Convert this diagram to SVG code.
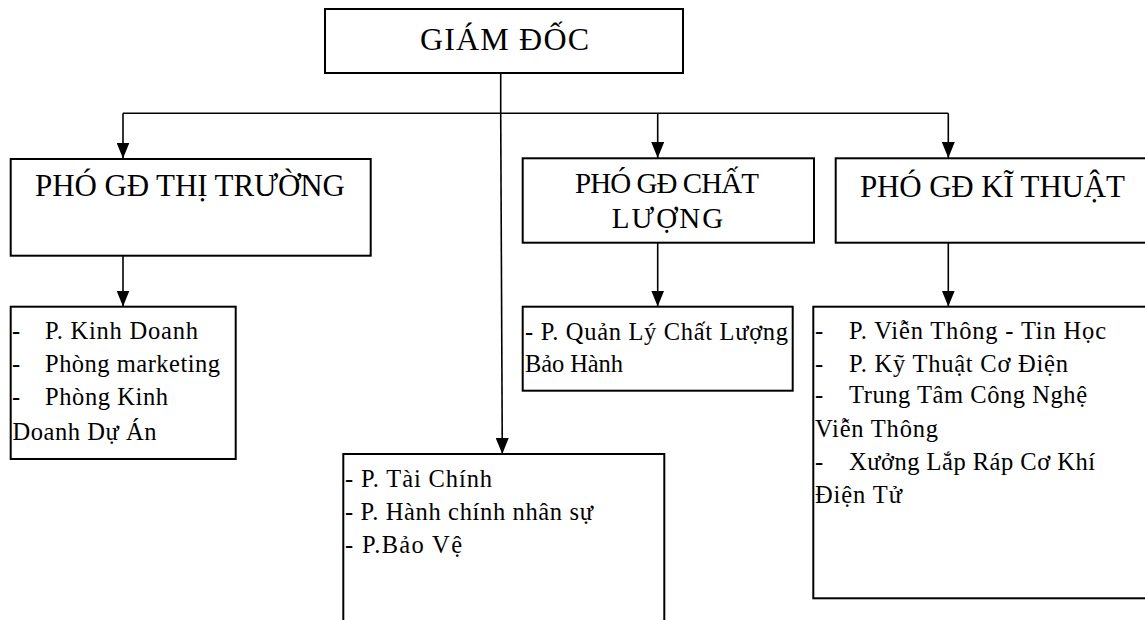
<svg xmlns="http://www.w3.org/2000/svg" width="1145" height="620" viewBox="0 0 1145 620">
<style>
.box{fill:#fff;stroke:#000;stroke-width:2}
.ln{fill:none;stroke:#000;stroke-width:1.6}
.h{font-family:"Liberation Serif","Times New Roman",serif;fill:#000}
.t{font-family:"Liberation Serif","Times New Roman",serif;font-size:24.5px;fill:#000}
</style>
<defs>
<marker id="arr" viewBox="0 0 16 13" refX="16" refY="6.5" markerWidth="16" markerHeight="13" markerUnits="userSpaceOnUse" orient="auto">
<path d="M0,0 L16,6.5 L0,13 Z" fill="#000"/>
</marker>
</defs>
<rect width="1145" height="620" fill="#fff"/>
<g id="connectors">
<line class="ln" x1="500.7" y1="73" x2="500.7" y2="113.3"/>
<line class="ln" x1="123" y1="113.3" x2="948.3" y2="113.3"/>
<line class="ln" x1="123" y1="113.3" x2="123" y2="158.5" marker-end="url(#arr)"/>
<line class="ln" x1="657.7" y1="113.3" x2="657.7" y2="158" marker-end="url(#arr)"/>
<line class="ln" x1="948.3" y1="113.3" x2="948.3" y2="158" marker-end="url(#arr)"/>
<line class="ln" x1="500.7" y1="113.3" x2="502.3" y2="454" marker-end="url(#arr)"/>
<line class="ln" x1="123" y1="243" x2="123" y2="306.5" marker-end="url(#arr)"/>
<line class="ln" x1="657.7" y1="243" x2="657.7" y2="306.5" marker-end="url(#arr)"/>
<line class="ln" x1="948.3" y1="243" x2="948.3" y2="306.5" marker-end="url(#arr)"/>
</g>
<g id="giam-doc">
<rect class="box" x="325" y="9" width="358" height="64"/>
<text class="h" x="420" y="49.5" font-size="32" textLength="169" lengthAdjust="spacing">GIÁM ĐỐC</text>
</g>
<g id="pgd-thi-truong">
<rect class="box" x="10.7" y="159" width="360" height="96.7"/>
<text class="h" x="35" y="195.7" font-size="31" textLength="310" lengthAdjust="spacing">PHÓ GĐ THỊ TRƯỜNG</text>
</g>
<g id="pgd-chat-luong">
<rect class="box" x="522.7" y="158.3" width="291.3" height="84.4"/>
<text class="h" x="575" y="192.7" font-size="29" textLength="184" lengthAdjust="spacing">PHÓ GĐ CHẤT</text>
<text class="h" x="611.7" y="228.3" font-size="29" textLength="111.6" lengthAdjust="spacing">LƯỢNG</text>
</g>
<g id="pgd-ky-thuat">
<rect class="box" x="835.7" y="158.3" width="320" height="84.4"/>
<text class="h" x="860" y="196.7" font-size="31" textLength="265" lengthAdjust="spacing">PHÓ GĐ KĨ THUẬT</text>
</g>
<g id="phong-thi-truong">
<rect class="box" x="10.7" y="306.7" width="225" height="152.3"/>
<text class="t" x="12" y="339">-</text>
<text class="t" x="45" y="339" textLength="153" lengthAdjust="spacing">P. Kinh Doanh</text>
<text class="t" x="12" y="372.3">-</text>
<text class="t" x="45" y="372.3" textLength="175" lengthAdjust="spacing">Phòng marketing</text>
<text class="t" x="12" y="405">-</text>
<text class="t" x="45" y="405" textLength="123" lengthAdjust="spacing">Phòng Kinh</text>
<text class="t" x="12.5" y="440" textLength="144" lengthAdjust="spacing">Doanh Dự Án</text>
</g>
<g id="phong-hanh-chinh">
<rect class="box" x="343.3" y="454" width="321" height="180"/>
<text class="t" x="345" y="486.7" textLength="147" lengthAdjust="spacing">- P. Tài Chính</text>
<text class="t" x="345" y="520" textLength="248" lengthAdjust="spacing">- P. Hành chính nhân sự</text>
<text class="t" x="345" y="553" textLength="117" lengthAdjust="spacing">- P.Bảo Vệ</text>
</g>
<g id="phong-chat-luong">
<rect class="box" x="522.7" y="306.7" width="270" height="84"/>
<text class="t" x="525" y="340" textLength="263" lengthAdjust="spacing">- P. Quản Lý Chất Lượng</text>
<text class="t" x="525" y="371.7" textLength="98" lengthAdjust="spacing">Bảo Hành</text>
</g>
<g id="phong-ky-thuat">
<rect class="box" x="813.3" y="306.7" width="340" height="291.6"/>
<text class="t" x="815" y="339.3">-</text>
<text class="t" x="849" y="339.3" textLength="257" lengthAdjust="spacing">P. Viễn Thông - Tin Học</text>
<text class="t" x="815" y="371.7">-</text>
<text class="t" x="849" y="371.7" textLength="219" lengthAdjust="spacing">P. Kỹ Thuật Cơ Điện</text>
<text class="t" x="815" y="403">-</text>
<text class="t" x="849" y="403" textLength="238" lengthAdjust="spacing">Trung Tâm Công Nghệ</text>
<text class="t" x="815" y="436.7" textLength="123" lengthAdjust="spacing">Viễn Thông</text>
<text class="t" x="815" y="470">-</text>
<text class="t" x="849" y="470" textLength="246" lengthAdjust="spacing">Xưởng Lắp Ráp Cơ Khí</text>
<text class="t" x="815" y="503" textLength="87" lengthAdjust="spacing">Điện Tử</text>
</g>
</svg>
